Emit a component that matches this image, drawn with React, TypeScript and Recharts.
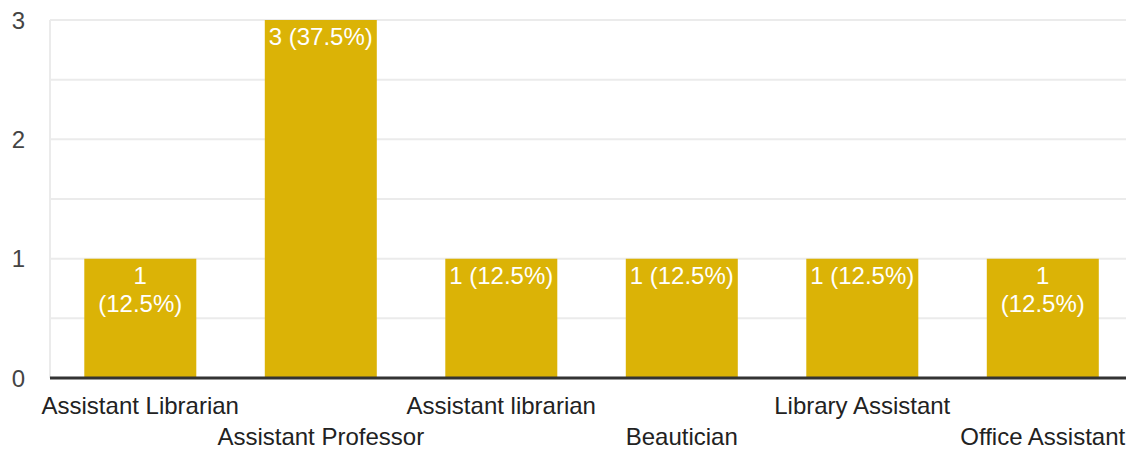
import { BarChart, Bar, XAxis, YAxis, CartesianGrid, LabelList } from 'recharts';

// Job titles and the count of responses for each
const TITLES = [
  'Assistant Librarian',
  'Assistant Professor',
  'Assistant librarian',
  'Beautician',
  'Library Assistant',
  'Office Assistant',
];
const COUNTS = [1, 3, 1, 1, 1, 1];
const PERCENTS = ['12.5%', '37.5%', '12.5%', '12.5%', '12.5%', '12.5%'];
const Y_TICKS = [0, 0.5, 1, 1.5, 2, 2.5, 3];

const DATA = TITLES.map((t, i) => ({ name: t, count: COUNTS[i], pct: PERCENTS[i] }));

const FONT = 'Arial, "Liberation Sans", sans-serif';
const BAR_COLOR = '#DBB306';

function YTick(props: any) {
  const { x, y, payload } = props;
  if (!Number.isInteger(payload.value)) return null;
  return (
    <text x={x} y={y} textAnchor="end" dominantBaseline="central" fill="#444" fontSize={24} fontFamily={FONT}>
      {payload.value}
    </text>
  );
}

function XTick(props: any) {
  const { x, y, payload, index } = props;
  // labels alternate between two rows so they don't collide
  const dy = index % 2 === 0 ? 36 : 67;
  return (
    <text x={x} y={y + dy} textAnchor="middle" fill="#222" fontSize={24} fontFamily={FONT}>
      {payload.value}
    </text>
  );
}

function BarLabel(props: any) {
  const { x, y, width, index } = props;
  const d = DATA[index];
  if (!d) return null;
  const cx = x + width / 2;
  // the outer bars wrap their label onto two lines
  const lines = index === 0 || index === DATA.length - 1 ? [`${d.count}`, `(${d.pct})`] : [`${d.count} (${d.pct})`];
  return (
    <text x={cx} y={y + 25} textAnchor="middle" fill="#fff" fontSize={24} fontFamily={FONT}>
      {lines.map((l, i) => (
        <tspan key={i} x={cx} dy={i === 0 ? 0 : 28}>
          {l}
        </tspan>
      ))}
    </text>
  );
}

export default function App() {
  return (
    <div style={{ position: 'absolute', left: 0, top: 0, width: 1126, height: 450, overflow: 'hidden', background: '#fff' }}>
      <BarChart
        width={1136}
        height={450}
        data={DATA}
        margin={{ top: 20, right: 3, left: 0, bottom: 0 }}
        barCategoryGap="19%"
      >
        <CartesianGrid vertical={false} stroke="#ebebeb" strokeWidth={2} />
        <YAxis
          domain={[0, 3]}
          ticks={Y_TICKS}
          width={50}
          tickSize={0}
          tickMargin={25}
          tickLine={false}
          axisLine={{ stroke: '#ebebeb', strokeWidth: 2 }}
          tick={<YTick />}
          interval={0}
        />
        <XAxis
          dataKey="name"
          height={72}
          interval={0}
          tickSize={0}
          tickMargin={0}
          tickLine={false}
          axisLine={{ stroke: '#333', strokeWidth: 3 }}
          tick={<XTick />}
        />
        <Bar dataKey="count" fill={BAR_COLOR} isAnimationActive={false}>
          <LabelList dataKey="count" content={<BarLabel />} />
        </Bar>
      </BarChart>
    </div>
  );
}
